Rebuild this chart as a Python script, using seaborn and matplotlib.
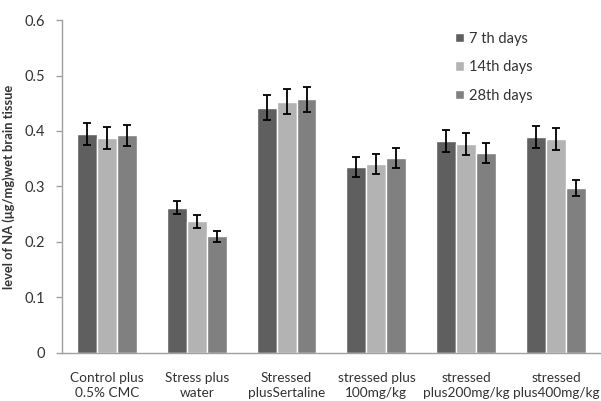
import numpy as np
import pandas as pd
import matplotlib
matplotlib.use('Agg')
import matplotlib.pyplot as plt
import seaborn as sns

# grupos y series
grupos = ['Control plus\n0.5% CMC', 'Stress plus\nwater', 'Stressed\nplusSertaline',
          'stressed plus\n100mg/kg', 'stressed\nplus200mg/kg', 'stressed\nplus400mg/kg']
series = ['7 th days', '14th days', '28th days']

dia7 = [0.395, 0.262, 0.442, 0.335, 0.382, 0.389]
dia14 = [0.388, 0.237, 0.453, 0.340, 0.376, 0.385]
dia28 = [0.392, 0.210, 0.457, 0.351, 0.360, 0.297]

err7 = [0.020, 0.012, 0.022, 0.018, 0.020, 0.020]
err14 = [0.020, 0.012, 0.023, 0.018, 0.020, 0.020]
err28 = [0.019, 0.010, 0.022, 0.018, 0.018, 0.015]

colores = ['#5f5f5f', '#b3b3b3', '#808080']

sns.set_style('white')
plt.rcParams['font.family'] = ['Lato', 'DejaVu Sans']

df = pd.DataFrame({
    'grupo': grupos * 3,
    'serie': [s for s in series for _ in grupos],
    'valor': dia7 + dia14 + dia28,
    'err': err7 + err14 + err28,
})

fig = plt.figure(figsize=(6.01, 4.01), dpi=100)
ax = fig.add_axes([0.103, 0.12, 0.897, 0.83])

sns.barplot(data=df, x='grupo', y='valor', hue='serie', order=grupos, hue_order=series,
            palette=colores, errorbar=None, width=0.667, saturation=1, ax=ax, zorder=2)

# barras de error sobre cada barra
barras = [p for p in ax.patches if p.get_height() > 0][:len(df)]
for p, (_, fila) in zip(barras, df.iterrows()):
    x = p.get_x() + p.get_width() / 2
    ax.errorbar(x, p.get_height(), yerr=fila['err'], fmt='none', ecolor='black',
                elinewidth=1.3, capsize=2.8, capthick=1.3, zorder=3)

ax.set_ylim(0, 0.6)
ax.set_xlim(-0.5, 5.5)
ax.set_yticks(np.arange(0, 0.61, 0.1))
ax.set_yticklabels(['0', '0.1', '0.2', '0.3', '0.4', '0.5', '0.6'], fontsize=10.5, color='#333333')
ax.set_xticks(range(6))
ax.set_xticklabels(grupos, fontsize=9.8, color='#333333', linespacing=1.3)
ax.set_xticks(np.arange(-0.5, 6, 1), minor=True)
ax.tick_params(axis='x', which='major', length=0, pad=14)
ax.tick_params(axis='x', which='minor', length=5, color='#a0a0a0', width=1, direction='out')
ax.tick_params(axis='y', length=4, color='#a0a0a0', width=1, direction='out', left=True, pad=8)
ax.set_xlabel('')
ax.set_ylabel('level of NA (\u03bcg/mg)wet brain tissue', fontsize=9.3, fontweight='bold',
              color='#333333', labelpad=7)

for lado in ['top', 'right']:
    ax.spines[lado].set_visible(False)
for lado in ['left', 'bottom']:
    ax.spines[lado].set_color('#a0a0a0')
    ax.spines[lado].set_linewidth(1)

ley = ax.legend(loc='upper left', bbox_to_anchor=(0.705, 1.005), frameon=False, fontsize=10.5,
                handlelength=0.6, handleheight=0.6, handletextpad=0.35, labelspacing=1.0)
for t in ley.get_texts():
    t.set_color('#333333')

fig.savefig('out.png', dpi=100)
